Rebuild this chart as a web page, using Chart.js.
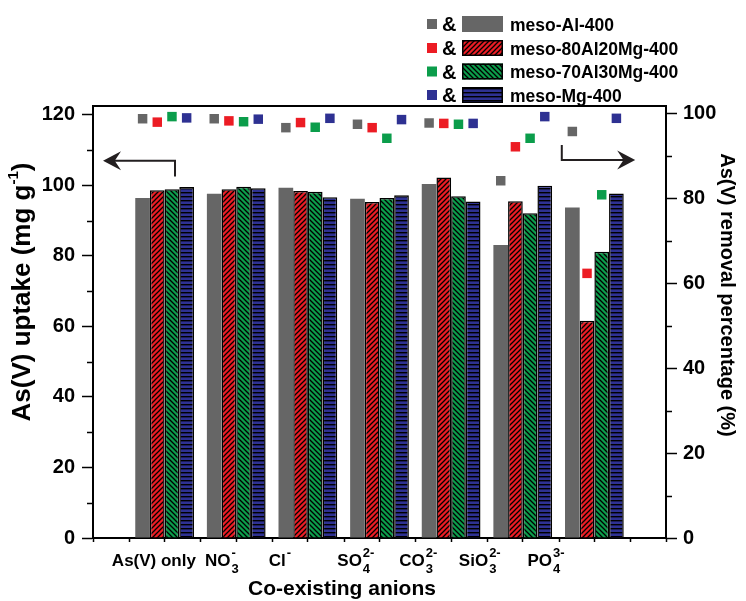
<!DOCTYPE html>
<html>
<head>
<meta charset="utf-8">
<script src="https://cdn.jsdelivr.net/npm/chart.js@4.4.1/dist/chart.umd.min.js"></script>
<style>
  html, body { margin: 0; padding: 0; background: #fff; }
  #wrap { width: 746px; height: 601px; position: relative; }
</style>
</head>
<body>
<div id="wrap"><canvas id="chart"></canvas></div>
<script>
// Co-existing anions (label text split into base / subscript / superscript)
const anionBase = ['As(V) only', 'NO', 'Cl', 'SO', 'CO', 'SiO', 'PO'];
const anionSub  = ['', '3', '', '4', '3', '3', '4'];
const anionSup  = ['', '-', '-', '2-', '2-', '2-', '3-'];

const seriesNames = ['meso-Al-400', 'meso-80Al20Mg-400', 'meso-70Al30Mg-400', 'meso-Mg-400'];

// As(V) uptake (mg g-1)
const uptakeAl   = [96.4, 97.6, 99.3, 96.2, 100.4, 83.1, 93.7];
const uptake80Al = [98.6, 98.9, 98.4, 95.3, 102.2, 95.5, 61.6];
const uptake70Al = [98.9, 99.6, 98.2, 96.4, 96.9, 92.1, 81.2];
const uptakeMg   = [99.5, 99.2, 96.6, 97.2, 95.4, 99.9, 97.7];

// As(V) removal percentage (%)
const removalAl   = [98.7, 98.7, 96.6, 97.4, 97.7, 84.1, 95.7];
const removal80Al = [97.9, 98.2, 97.8, 96.6, 97.6, 92.1, 62.3];
const removal70Al = [99.2, 98.0, 96.7, 94.1, 97.4, 94.1, 80.8];
const removalMg   = [98.9, 98.6, 98.8, 98.5, 97.6, 99.2, 98.8];

// Axis tick values
const uptakeTicks  = [0, 20, 40, 60, 80, 100, 120];
const removalTicks = [0, 20, 40, 60, 80, 100];

// ---- layout / style -------------------------------------------------------
const FONT = "'Liberation Sans', Arial, Helvetica, sans-serif";
const COLORS = ['#666666', '#ec1c24', '#0b9d4b', '#2e3192'];
const HATCH = ['none', '/', '\\', '-'];
const GROUP_FRACTION = 0.82;
const BAR_UNITS = GROUP_FRACTION / 4;
// horizontal nudges of the anion labels relative to their group centre
const labelShift = [-0.15, -0.2, -0.39, -0.33, -0.46, -0.6, -0.675];

const canvas = document.getElementById('chart');
const mainCtx = canvas.getContext('2d');

function hatchFill(color, kind) {
  if (kind === 'none') return color;
  const s = kind === '-' ? 4 : 5;
  const tile = document.createElement('canvas');
  tile.width = s; tile.height = s;
  const g = tile.getContext('2d');
  g.fillStyle = color;
  g.fillRect(0, 0, s, s);
  g.strokeStyle = '#000';
  g.lineWidth = 1.3;
  g.beginPath();
  if (kind === '/') {
    g.moveTo(-1, s + 1); g.lineTo(s + 1, -1);
    g.moveTo(-1, 1); g.lineTo(1, -1);
    g.moveTo(s - 1, s + 1); g.lineTo(s + 1, s - 1);
  } else if (kind === '\\') {
    g.moveTo(-1, -1); g.lineTo(s + 1, s + 1);
    g.moveTo(s - 1, -1); g.lineTo(s + 1, 1);
    g.moveTo(-1, s - 1); g.lineTo(1, s + 1);
  } else {
    g.lineWidth = 1.4;
    g.moveTo(0, 0.7); g.lineTo(s, 0.7);
  }
  g.stroke();
  return mainCtx.createPattern(tile, 'repeat');
}

const fills = COLORS.map((c, k) => hatchFill(c, HATCH[k]));
const uptakeSeries = [uptakeAl, uptake80Al, uptake70Al, uptakeMg];
const removalSeries = [removalAl, removal80Al, removal70Al, removalMg];

const barSets = uptakeSeries.map((vals, k) => ({
  type: 'bar',
  label: seriesNames[k],
  data: vals.map((v, i) => ({ x: i + 1, y: v })),
  backgroundColor: fills[k],
  borderColor: '#000',
  borderWidth: k === 0 ? 0 : 1.5,
  categoryPercentage: GROUP_FRACTION,
  barPercentage: 1,
  xAxisID: 'x',
  yAxisID: 'y',
  order: 1
}));

const pointSets = removalSeries.map((vals, k) => ({
  type: 'scatter',
  label: seriesNames[k] + ' (%)',
  data: vals.map((v, i) => ({ x: i + 1 + (k - 1.5) * BAR_UNITS, y: v })),
  backgroundColor: COLORS[k],
  borderWidth: 0,
  pointStyle: 'rect',
  pointRadius: 6.7,
  showLine: false,
  xAxisID: 'x',
  yAxisID: 'y1',
  order: 0
}));

// arrows pointing at the axis each data type belongs to (data units)
const arrowLeft  = { axis: 'y',  xStart: 1.145, yStart: 102.5, yTurn: 107.0, xTip: 0.14 };
const arrowRight = { axis: 'y1', xStart: 6.545, yStart: 92.5,  yTurn: 89.0,  xTip: 7.57 };

function drawArrow(ctx, chart, a) {
  const xs = chart.scales.x, ys = chart.scales[a.axis];
  const x0 = xs.getPixelForValue(a.xStart);
  const y0 = ys.getPixelForValue(a.yStart);
  const y1 = ys.getPixelForValue(a.yTurn);
  const xt = xs.getPixelForValue(a.xTip);
  const dir = xt < x0 ? -1 : 1;
  const head = 18, half = 9.5;
  ctx.save();
  ctx.strokeStyle = '#231f20';
  ctx.fillStyle = '#231f20';
  ctx.lineWidth = 2;
  ctx.beginPath();
  ctx.moveTo(x0, y0);
  ctx.lineTo(x0, y1);
  ctx.lineTo(xt - dir * head * 0.6, y1);
  ctx.stroke();
  ctx.beginPath();
  ctx.moveTo(xt, y1);
  ctx.lineTo(xt - dir * head, y1 - half);
  ctx.lineTo(xt - dir * head * 0.65, y1);
  ctx.lineTo(xt - dir * head, y1 + half);
  ctx.closePath();
  ctx.fill();
  ctx.restore();
}

function drawRichText(ctx, parts, x, y) {
  let cx = x;
  parts.forEach(p => {
    ctx.font = `bold ${p.size}px ${FONT}`;
    ctx.fillText(p.t, cx, y + (p.dy || 0));
    cx += ctx.measureText(p.t).width;
  });
}
function richWidth(ctx, parts) {
  let w = 0;
  parts.forEach(p => { ctx.font = `bold ${p.size}px ${FONT}`; w += ctx.measureText(p.t).width; });
  return w;
}

const decorations = {
  id: 'decorations',
  afterDraw(chart) {
    const ctx = chart.ctx;
    const area = chart.chartArea;
    const xs = chart.scales.x, yl = chart.scales.y, yr = chart.scales.y1;
    ctx.save();
    ctx.fillStyle = '#000';
    ctx.strokeStyle = '#000';

    // top frame line
    ctx.lineWidth = 2;
    ctx.beginPath();
    ctx.moveTo(area.left - 1, area.top);
    ctx.lineTo(area.right + 1, area.top);
    ctx.stroke();

    // minor ticks
    ctx.lineWidth = 1.5;
    ctx.beginPath();
    for (let v = 10; v < 122; v += 20) {
      const p = Math.round(yl.getPixelForValue(v)) + 0.5;
      ctx.moveTo(area.left, p); ctx.lineTo(area.left - 6, p);
    }
    for (let v = 10; v < 100; v += 20) {
      const p = Math.round(yr.getPixelForValue(v)) + 0.5;
      ctx.moveTo(area.right, p); ctx.lineTo(area.right + 6, p);
    }
    for (let v = 0.5; v < 8; v += 1) {
      const p = Math.round(xs.getPixelForValue(v)) + 0.5;
      ctx.moveTo(p, area.bottom); ctx.lineTo(p, area.bottom + 4);
    }
    ctx.stroke();

    // anion labels with stacked sub/superscripts
    ctx.textBaseline = 'alphabetic';
    ctx.textAlign = 'left';
    anionBase.forEach((base, i) => {
      ctx.font = `bold 17px ${FONT}`;
      const bw = ctx.measureText(base).width;
      ctx.font = `bold 13px ${FONT}`;
      const sw = Math.max(ctx.measureText(anionSub[i]).width, ctx.measureText(anionSup[i]).width);
      const total = bw + (sw ? sw + 1 : 0);
      const cx = xs.getPixelForValue(i + 1 + labelShift[i]);
      const x0 = cx - total / 2;
      ctx.font = `bold 17px ${FONT}`;
      ctx.fillText(base, x0, 566);
      ctx.font = `bold 13px ${FONT}`;
      if (anionSub[i]) ctx.fillText(anionSub[i], x0 + bw + 1, 573);
      if (anionSup[i]) ctx.fillText(anionSup[i], x0 + bw + 1, 557);
    });

    // x axis title
    ctx.font = `bold 21px ${FONT}`;
    ctx.textAlign = 'center';
    ctx.fillText('Co-existing anions', 342, 595);

    // left axis title (with superscript)
    const leftParts = [
      { t: 'As(V) uptake (mg g', size: 26 },
      { t: '-1', size: 15, dy: -9 },
      { t: ')', size: 26 }
    ];
    ctx.save();
    ctx.translate(23, 292);
    ctx.rotate(-Math.PI / 2);
    ctx.textAlign = 'left';
    ctx.textBaseline = 'middle';
    const lw = richWidth(ctx, leftParts);
    drawRichText(ctx, leftParts, -lw / 2, 0);
    ctx.restore();

    // right axis title
    ctx.save();
    ctx.translate(727, 295);
    ctx.rotate(Math.PI / 2);
    ctx.textAlign = 'center';
    ctx.textBaseline = 'middle';
    ctx.font = `bold 20px ${FONT}`;
    ctx.fillText('As(V) removal percentage (%)', 0, 0);
    ctx.restore();

    // arrows
    drawArrow(ctx, chart, arrowLeft);
    drawArrow(ctx, chart, arrowRight);

    // legend: marker & bar swatch, name
    const rows = [24, 48, 71.5, 95];
    ctx.textAlign = 'left';
    ctx.textBaseline = 'alphabetic';
    seriesNames.forEach((name, k) => {
      const cy = rows[k];
      ctx.fillStyle = COLORS[k];
      ctx.fillRect(427, cy - 5, 10, 10);
      ctx.fillStyle = '#000';
      ctx.font = `bold 20px ${FONT}`;
      ctx.fillText('&', 442, cy + 7);
      ctx.fillStyle = fills[k];
      ctx.fillRect(462, cy - 8, 41, 16);
      if (k > 0) {
        ctx.lineWidth = 1.5;
        ctx.strokeStyle = '#000';
        ctx.strokeRect(462.75, cy - 7.25, 39.5, 14.5);
      }
      ctx.fillStyle = '#000';
      ctx.font = `bold 17.5px ${FONT}`;
      ctx.fillText(name, 510, cy + 6.5);
    });
    ctx.restore();
  }
};

const tickFont = { family: FONT, size: 20, weight: 'bold' };

new Chart(canvas, {
  type: 'bar',
  data: { datasets: [...pointSets, ...barSets] },
  options: {
    responsive: true,
    maintainAspectRatio: false,
    animation: false,
    layout: { padding: { top: 106, left: 0, right: 0, bottom: 0 } },
    plugins: { legend: { display: false }, tooltip: { enabled: false }, title: { display: false } },
    scales: {
      x: {
        type: 'linear',
        position: 'bottom',
        offset: false,
        min: 0, max: 8,
        afterFit: s => { s.height = 63; },
        ticks: { display: false, stepSize: 1 },
        grid: { offset: false, drawOnChartArea: false, drawTicks: true, tickLength: 4, tickWidth: 1.5, tickColor: '#000' },
        border: { display: true, color: '#000', width: 2 }
      },
      y: {
        type: 'linear',
        position: 'left',
        min: 0, max: 122.5,
        afterFit: s => { s.width = 93; },
        afterBuildTicks: s => { s.ticks = uptakeTicks.map(v => ({ value: v })); },
        ticks: { font: tickFont, color: '#000', padding: 7 },
        grid: { drawOnChartArea: false, tickLength: 11, tickWidth: 1.5, tickColor: '#000' },
        border: { display: true, color: '#000', width: 2 }
      },
      y1: {
        type: 'linear',
        position: 'right',
        min: 0, max: 101.7,
        afterFit: s => { s.width = 80; },
        afterBuildTicks: s => { s.ticks = removalTicks.map(v => ({ value: v })); },
        ticks: { font: tickFont, color: '#000', padding: 6 },
        grid: { drawOnChartArea: false, tickLength: 11, tickWidth: 1.5, tickColor: '#000' },
        border: { display: true, color: '#000', width: 2 }
      }
    }
  },
  plugins: [decorations]
});
</script>
</body>
</html>
